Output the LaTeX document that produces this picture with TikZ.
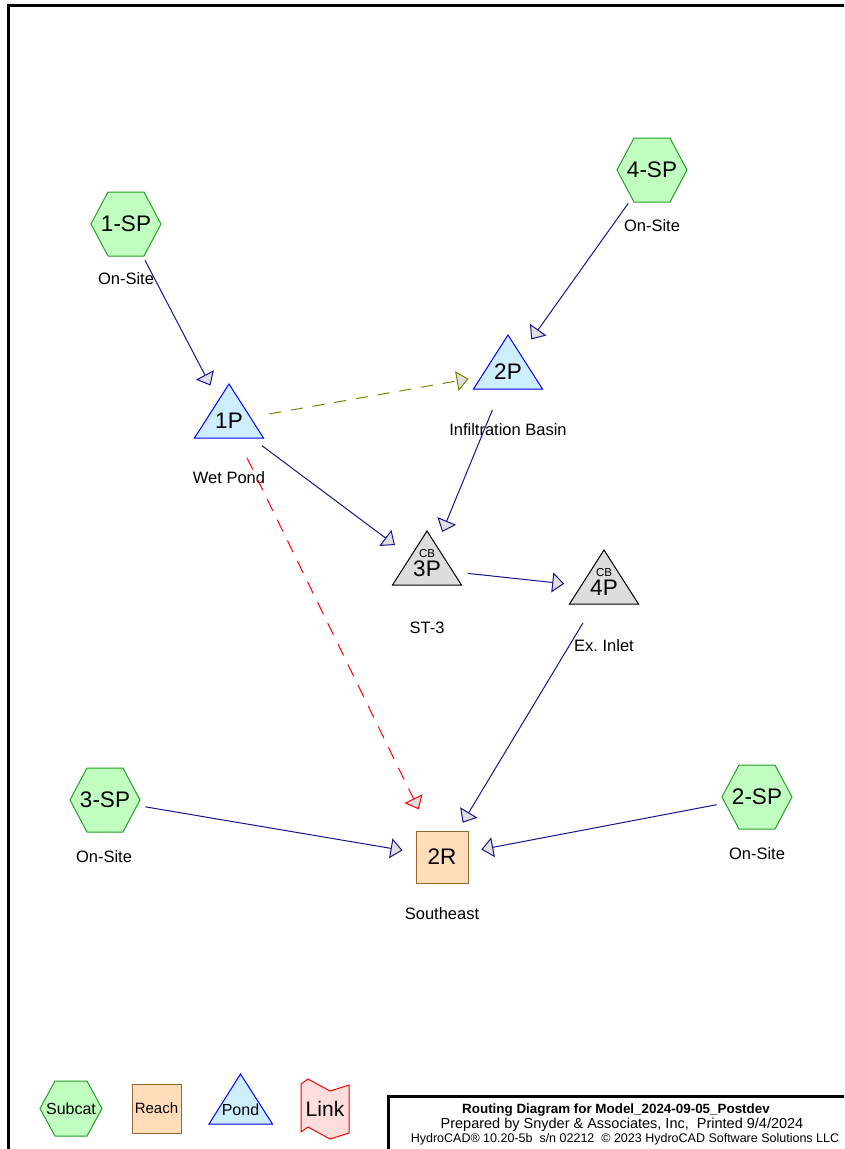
\documentclass[tikz,border=0pt]{standalone}
\usepackage{fontspec}
\setmainfont{Liberation Sans}
\usetikzlibrary{arrows.meta}
\newcommand{\sz}[1]{\fontsize{#1}{#1}\selectfont}
\definecolor{subfill}{HTML}{C0FFC0}
\definecolor{subdraw}{HTML}{22A022}
\definecolor{pondfill}{HTML}{CCEEFF}
\definecolor{cbfill}{HTML}{DDDDDD}
\definecolor{reachfill}{HTML}{FFDDBB}
\definecolor{reachdraw}{HTML}{996633}
\definecolor{linkfill}{HTML}{FFDDDD}
\definecolor{flow}{HTML}{14148C}
\definecolor{oliv}{HTML}{808000}

\begin{document}
\begin{tikzpicture}[x=1pt,y=-1pt,
  every node/.style={font=\sz{16.5}},
  hexa/.style={draw=subdraw,fill=subfill,line width=1pt},
  reach/.style={rectangle,minimum size=52pt,inner sep=0pt,draw=reachdraw,fill=reachfill,line width=1pt,font=\sz{22.5}},
  pondtri/.style={draw=blue,fill=pondfill,line width=1pt},
  cbtri/.style={draw=black,fill=cbfill,line width=1pt},
  linkbox/.style={draw=red,fill=linkfill,line width=1pt},
  ident/.style={inner sep=0pt,font=\sz{22.5}},
  cbl/.style={inner sep=0pt,font=\sz{11.5},label distance=3.5pt},
  lbl/.style={inner sep=0pt,font=\sz{16.5}},
  ttl/.style={inner sep=0pt,anchor=base},
  fl/.style={draw=flow,line width=1pt,shorten <=41pt,shorten >=40pt,-{Triangle[length=12pt,width=20pt,fill=gray!25]}},
  frame/.style={line width=3pt}]
\useasboundingbox (0,0) rectangle (844,1149);
\clip (0,0) rectangle (844,1149);
% page frame and title block
\draw[frame] (8.5,1160) -- (8.5,5) -- (850,5);
\draw[frame] (388.5,1160) -- (388.5,1096) -- (850,1096);
% subcatchment hexagons and pond triangles
\foreach \x/\y in {126/224,652/170,105/800,757/797}
  \draw[hexa] (\x-35,\y) -- (\x-18,\y-32) -- (\x+18,\y-32) -- (\x+35,\y) -- (\x+18,\y+32) -- (\x-18,\y+32) -- cycle;
\foreach \x/\y/\s in {229/421/pondtri,508/372/pondtri,427/568/cbtri,604/587/cbtri}
  \draw[\s] (\x-34.5,\y+17) -- (\x+34.5,\y+17) -- (\x,\y-37) -- cycle;
% nodes
\node[ident] (1SP) at (126,224) {1-SP};
\node[ident] (4SP) at (652,170) {4-SP};
\node[ident] (3SP) at (105,800) {3-SP};
\node[ident] (2SP) at (757,797) {2-SP};
\node[ident] (1P) at (229,421) {1P};
\node[ident] (2P) at (508,372) {2P};
\node[ident,label={[cbl]above:CB}] (3P) at (427,569) {3P};
\node[ident,label={[cbl]above:CB}] (4P) at (604,588) {4P};
\node[reach] (2R) at (442,857) {2R};
% labels
\node[lbl] (1SPl) at (126,279) {On-Site};
\node[lbl] (4SPl) at (652,226) {On-Site};
\node[lbl] (3SPl) at (104,857) {On-Site};
\node[lbl] (2SPl) at (757,854) {On-Site};
\node[lbl] (1Pl) at (229,478) {Wet Pond};
\node[lbl] (2Pl) at (508,430) {Infiltration Basin};
\node[lbl] (3Pl) at (427,628) {ST-3};
\node[lbl] (4Pl) at (604,646) {Ex.\ Inlet};
\node[lbl] (2Rl) at (442,914) {Southeast};
% routing
\foreach \a/\b in {1SP/1P,4SP/2P,1P/3P,2P/3P,3P/4P,4P/2R,3SP/2R,2SP/2R}
  \draw[fl] (\a.center) -- (\b.center);
\draw[fl,draw=oliv,dash pattern=on 12pt off 10pt] (1P.center) -- (2P.center);
\draw[fl,draw=red,dash pattern=on 13pt off 10pt,shorten >=53pt] (1P.center) -- (2R.center);
% legend
\draw[hexa] (40,1108.5) -- (55,1081) -- (87,1081) -- (102,1108.5) -- (87,1136) -- (55,1136) -- cycle;
\node[inner sep=0pt,font=\sz{16}] (lsub) at (71,1108.5) {Subcat};
\node[reach,minimum size=49pt,font=\sz{15}] (lreach) at (156.5,1108.5) {Reach};
\draw[pondtri] (209,1124) -- (272.5,1124) -- (240.5,1074) -- cycle;
\node[inner sep=0pt,font=\sz{16}] (lpond) at (240.5,1110) {Pond};
\draw[linkbox] (301,1084) -- (308,1079) -- (330,1091) -- (349,1085) -- (349,1133) -- (330,1139) -- (308,1127) -- (301,1132) -- cycle;
\node[inner sep=0pt,font=\sz{21}] (llink) at (325,1109) {Link};
% title block
\node[ttl,font=\sz{13.4}] (t1) at (616,1113) {\textbf{Routing Diagram for Model\_2024-09-05\_Postdev}};
\node[ttl,font=\sz{14.5}] (t2) at (622,1128) {Prepared by Snyder \& Associates, Inc,\ \ Printed 9/4/2024};
\node[ttl,font=\sz{12.5}] (t3) at (625,1142) {HydroCAD® 10.20-5b\ \ s/n 02212\ \ © 2023 HydroCAD Software Solutions LLC};
\end{tikzpicture}
\end{document}
